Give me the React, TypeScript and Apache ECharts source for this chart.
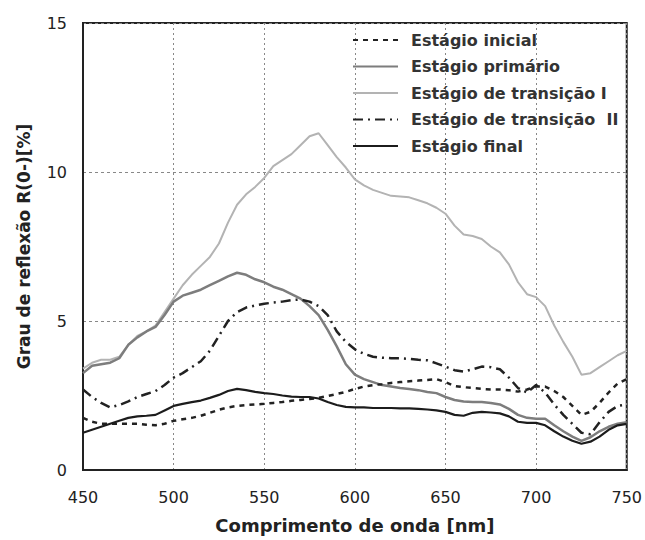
import React, { useEffect, useRef } from "react";
import * as echarts from "echarts";

const wavelengths = [
  450, 455, 460, 465, 470, 475, 480, 485, 490, 495, 500, 505, 510, 515, 520, 525, 530, 535, 540, 545,
  550, 555, 560, 565, 570, 575, 580, 585, 590, 595, 600, 605, 610, 615, 620, 625, 630, 635, 640, 645,
  650, 655, 660, 665, 670, 675, 680, 685, 690, 695, 700, 705, 710, 715, 720, 725, 730, 735, 740, 745, 750,
];

const estagioInicial = [
  1.75, 1.62, 1.55, 1.55, 1.55, 1.55, 1.55, 1.52, 1.5, 1.55, 1.65, 1.7, 1.75, 1.82, 1.92, 2.02, 2.1, 2.15, 2.18, 2.2,
  2.22, 2.25, 2.28, 2.32, 2.35, 2.38, 2.42, 2.48, 2.55, 2.62, 2.72, 2.8, 2.85, 2.88, 2.92, 2.95, 2.98, 3.0, 3.02, 3.05,
  2.95, 2.82, 2.78, 2.75, 2.72, 2.7, 2.7, 2.68, 2.63, 2.7, 2.8, 2.8, 2.65, 2.45, 2.15, 1.85, 1.95, 2.25, 2.6, 2.9, 3.05,
];

const estagioPrimario = [
  3.25, 3.5, 3.55, 3.6, 3.75, 4.2, 4.45, 4.65, 4.8, 5.2, 5.65, 5.85, 5.95, 6.05, 6.2, 6.35, 6.5, 6.62, 6.55, 6.4,
  6.3, 6.15, 6.05, 5.9, 5.75, 5.5, 5.2, 4.7, 4.15, 3.55, 3.2, 3.05, 2.95, 2.85, 2.8, 2.75, 2.72, 2.68, 2.62, 2.58,
  2.45, 2.35, 2.3, 2.28, 2.28, 2.25, 2.2, 2.05, 1.85, 1.75, 1.72, 1.72, 1.5, 1.3, 1.12, 0.98, 1.1, 1.3, 1.45, 1.55, 1.6,
];

const estagioTransicaoI = [
  3.4, 3.6, 3.7, 3.7, 3.8, 4.2, 4.5, 4.65, 4.85, 5.3, 5.75, 6.2, 6.55, 6.85, 7.15, 7.6, 8.3, 8.9, 9.25, 9.5,
  9.8, 10.2, 10.4, 10.6, 10.9, 11.2, 11.3, 10.9, 10.5, 10.15, 9.75, 9.55, 9.4, 9.3, 9.2, 9.18, 9.15, 9.05, 8.95, 8.8,
  8.6, 8.2, 7.9, 7.85, 7.75, 7.5, 7.3, 6.9, 6.3, 5.9, 5.8, 5.5, 4.85, 4.3, 3.8, 3.2, 3.25, 3.45, 3.65, 3.85, 4.0,
];

const estagioTransicaoII = [
  2.7, 2.45, 2.25, 2.1, 2.18, 2.3, 2.45, 2.55, 2.65, 2.85, 3.1, 3.25, 3.45, 3.65, 4.0, 4.5, 5.0, 5.3, 5.45, 5.52,
  5.58, 5.62, 5.65, 5.7, 5.72, 5.65, 5.5, 5.2, 4.65, 4.3, 4.05, 3.9, 3.8, 3.77, 3.75, 3.75, 3.73, 3.7, 3.68, 3.58,
  3.47, 3.35, 3.3, 3.38, 3.47, 3.45, 3.38, 3.1, 2.75, 2.6, 2.85, 2.6, 2.2, 1.85, 1.55, 1.25, 1.2, 1.6, 1.95, 2.15, 2.2,
];

const estagioFinal = [
  1.25, 1.35, 1.45, 1.55, 1.65, 1.75, 1.8, 1.82, 1.85, 2.0, 2.15, 2.22, 2.28, 2.33, 2.42, 2.52, 2.65, 2.72, 2.68, 2.62,
  2.58, 2.55, 2.5, 2.46, 2.45, 2.45, 2.4, 2.28, 2.18, 2.12, 2.1, 2.1, 2.08, 2.08, 2.08, 2.07, 2.07, 2.05, 2.03, 2.0,
  1.95, 1.85, 1.82, 1.92, 1.95, 1.93, 1.9, 1.8, 1.62, 1.58, 1.58, 1.5, 1.3, 1.12, 0.98, 0.88, 0.95, 1.12, 1.35, 1.5, 1.55,
];

const seriesNames = [
  "Estágio inicial",
  "Estágio primário",
  "Estágio de transição I",
  "Estágio de transição  II",
  "Estágio final",
];

const xTicks = { min: 450, max: 750, interval: 50 };
const yTicks = { min: 0, max: 15, interval: 5 };

const pairs = (vals: number[]) => wavelengths.map((w, i) => [w, vals[i]]);

export default function App() {
  const ref = useRef<HTMLDivElement>(null);
  useEffect(() => {
    document.body.style.margin = "0";
    const chart = echarts.init(ref.current!, null, { renderer: "svg" });
    const font = "DejaVu Sans";
    const line = (name: string, vals: number[], color: string, width: number, type: any, z: number) => ({
      name,
      type: "line",
      data: pairs(vals),
      symbol: "none",
      showSymbol: false,
      z,
      lineStyle: { color, width, type },
      itemStyle: { color },
    });
    chart.setOption({
      animation: false,
      backgroundColor: "#ffffff",
      grid: {
        left: 83,
        right: 17,
        top: 23,
        bottom: 70,
        show: true,
        borderColor: "#222",
        borderWidth: 2,
        backgroundColor: "transparent",
      },
      legend: {
        orient: "vertical",
        left: 347,
        top: 27,
        itemWidth: 45,
        itemHeight: 14,
        itemGap: 10.5,
        data: seriesNames,
        itemStyle: { opacity: 0 },
        textStyle: {
          fontFamily: font,
          fontWeight: "bold",
          fontSize: 16,
          color: "#333",
          padding: [0, 0, 0, 8],
        },
      },
      xAxis: {
        type: "value",
        min: xTicks.min,
        max: xTicks.max,
        interval: xTicks.interval,
        name: "Comprimento de onda [nm]",
        nameLocation: "middle",
        nameGap: 46,
        nameTextStyle: { fontFamily: font, fontWeight: "bold", fontSize: 18, color: "#222" },
        axisLine: { show: true, lineStyle: { color: "#222", width: 2 } },
        axisTick: { show: false },
        axisLabel: { fontFamily: font, fontSize: 16, color: "#222", margin: 19 },
        splitLine: { show: true, lineStyle: { color: "#888", width: 1, type: [2, 3] } },
      },
      yAxis: {
        type: "value",
        min: yTicks.min,
        max: yTicks.max,
        interval: yTicks.interval,
        name: "Grau de reflexão R(0-)[%]",
        nameLocation: "middle",
        nameGap: 51,
        nameTextStyle: { fontFamily: font, fontWeight: "bold", fontSize: 17, color: "#222" },
        axisLine: { show: true, lineStyle: { color: "#222", width: 2 } },
        axisTick: { show: false },
        axisLabel: { fontFamily: font, fontSize: 16, color: "#222", margin: 16 },
        splitLine: { show: true, lineStyle: { color: "#888", width: 1, type: [3, 3] } },
      },
      series: [
        line(seriesNames[0], estagioInicial, "#222", 2.5, [5, 5], 5),
        line(seriesNames[1], estagioPrimario, "#7d7d7d", 2.5, "solid", 3),
        line(seriesNames[2], estagioTransicaoI, "#b3b3b3", 2, "solid", 2),
        line(seriesNames[3], estagioTransicaoII, "#222", 2.5, [10, 5, 2, 5], 4),
        line(seriesNames[4], estagioFinal, "#1c1c1c", 2.2, "solid", 6),
      ],
    });
    return () => chart.dispose();
  }, []);
  return <div ref={ref} style={{ width: 645, height: 540 }} />;
}
